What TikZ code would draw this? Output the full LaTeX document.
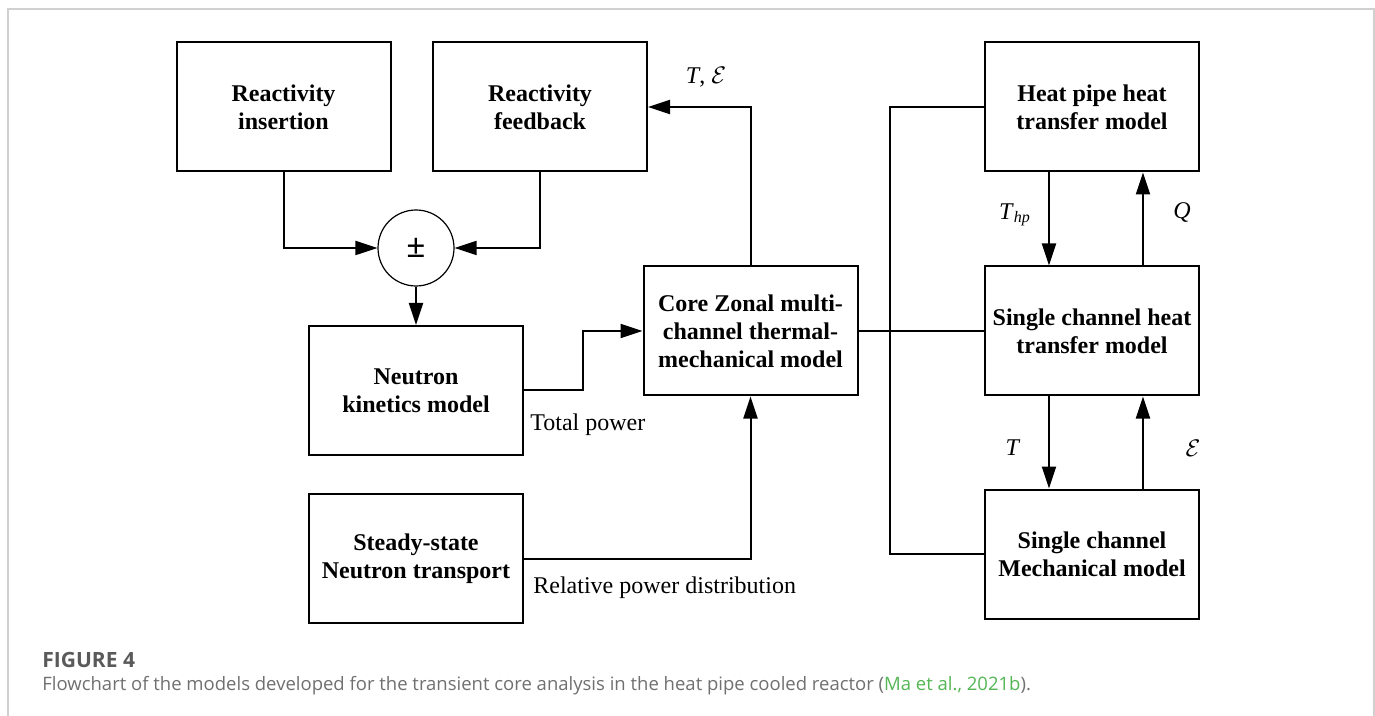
\documentclass[tikz,border=0pt]{standalone}
\usepackage{fontspec}
\setmainfont{Liberation Serif}
\newfontfamily\capfont{Open Sans}
\usetikzlibrary{arrows.meta}
\definecolor{framegray}{RGB}{208,208,208}
\definecolor{figgray}{RGB}{90,90,90}
\definecolor{capgray}{RGB}{112,112,112}
\definecolor{citegreen}{RGB}{84,182,84}
\begin{document}
\begin{tikzpicture}[x=0.5pt,y=-0.5pt,
  box/.style={draw,line width=1pt,minimum width=107pt,minimum height=64.5pt,
    align=center,inner sep=0pt,font=\fontsize{12}{14}\selectfont\bfseries},
  link/.style={line width=1pt},
  arr/.style={line width=1pt,-{Triangle[length=11pt,width=7pt]}},
  lbl/.style={inner sep=0pt,font=\fontsize{12}{14}\selectfont}]
\useasboundingbox (0,0) rectangle (1375,716);
\fill[white] (0,0) rectangle (1375,716);
% open frame around figure and caption
\draw[line width=0.6pt,framegray] (8,716) -- (8,9) -- (1374,9) -- (1374,716);

% blocks
\node[box] (ins)  at (283.5,107) {Reactivity\\insertion};
\node[box] (fb)   at (540,107)   {Reactivity\\feedback};
\node[draw,circle,line width=0.6pt,minimum size=38pt,inner sep=0pt,
      font=\fontsize{17}{17}\selectfont\bfseries] (sum) at (416,248) {±};
\node[box] (kin)  at (416,390.5) {Neutron\\kinetics model};
\node[box] (ss)   at (416,558.5) {Steady-state\\Neutron transport};
\node[box] (core) at (750.5,331) {Core Zonal multi-\\channel thermal-\\mechanical model};
\node[box] (hp)   at (1092,107)  {Heat pipe heat\\transfer model};
\node[box] (sch)  at (1092,331)  {Single channel heat\\transfer model};
\node[box] (mech) at (1092,554)  {Single channel\\Mechanical model};

% bends
\coordinate (kbend) at (583,331);
\coordinate (busT) at (890,107);
\coordinate (busB) at (890,554);

% connectors
\draw[arr] (ins.south) |- (sum.west);
\draw[arr] (fb.south) |- (sum.east);
\draw[arr] (sum.south) -- (kin.north);
\draw[arr] (kin.east) -| (kbend) -- (core.west);
\draw[arr] (core.north) |- (fb.east);
\draw[arr] (ss.east) -| (core.south);
\draw[link] (core.east) -- (sch.west);
\draw[link] (hp.west) -- (busT) -- (busB) -- (mech.west);
\draw[arr] ([xshift=-21.5pt]hp.south) -- ([xshift=-21.5pt]sch.north);
\draw[arr] ([xshift=25.5pt]sch.north) -- ([xshift=25.5pt]hp.south);
\draw[arr] ([xshift=-21.5pt]sch.south) -- ([xshift=-21.5pt]mech.north);
\draw[arr] ([xshift=25.5pt]mech.north) -- ([xshift=25.5pt]sch.south);

% signal labels
\node[lbl] (lte) at (706,77) {\textit{T}, $\mathcal{E}$};
\node[lbl,anchor=west] (ltp) at (530,425) {Total power};
\node[lbl,anchor=west] (lrp) at (533,588) {Relative power distribution};
\node[lbl] (lthp) at (1015,215) {\textit{T}\textsubscript{\textit{hp}}};
\node[lbl] (lq) at (1182,213) {\textit{Q}};
\node[lbl] (lt) at (1013,448) {\textit{T}};
\node[lbl] (le) at (1193,448) {$\mathcal{E}$};

% caption
\node[anchor=base west,inner sep=0pt,text=figgray,
      font=\capfont\fontsize{10.5}{12}\selectfont\bfseries] (fig) at (42,667) {FIGURE 4};
\node[anchor=base west,inner sep=0pt,text=capgray,
      font=\capfont\fontsize{9.25}{11}\selectfont] (cap) at (42,690)
  {Flowchart of the models developed for the transient core analysis in the heat pipe cooled reactor (\textcolor{citegreen}{Ma et al., 2021b}).};
\end{tikzpicture}
\end{document}
